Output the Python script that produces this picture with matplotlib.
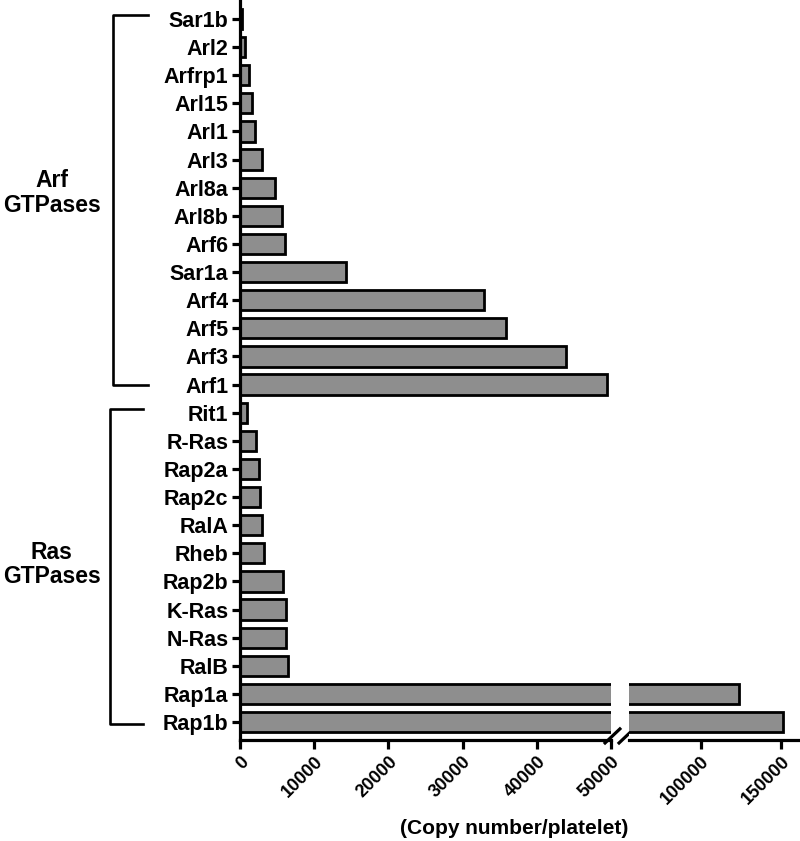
import matplotlib.pyplot as plt
import numpy as np
from matplotlib.lines import Line2D

# ---- data ----
arf_genes = ["Sar1b", "Arl2", "Arfrp1", "Arl15", "Arl1", "Arl3", "Arl8a", "Arl8b",
             "Arf6", "Sar1a", "Arf4", "Arf5", "Arf3", "Arf1"]
arf_values = [300, 650, 1200, 1550, 2000, 3000, 4700, 5700,
              6100, 14300, 32900, 35800, 43900, 49400]
ras_genes = ["Rit1", "R-Ras", "Rap2a", "Rap2c", "RalA", "Rheb", "Rap2b", "K-Ras",
             "N-Ras", "RalB", "Rap1a", "Rap1b"]
ras_values = [1000, 2150, 2500, 2750, 3000, 3300, 5800, 6250,
              6200, 6450, 124000, 151500]
xticks_left = [0, 10000, 20000, 30000, 40000, 50000]
xticks_right = [100000, 150000]
group_labels = ["Arf\nGTPases", "Ras\nGTPases"]
xlabel = "(Copy number/platelet)"

plt.rcParams['font.family'] = ['Liberation Sans', 'DejaVu Sans']
plt.rcParams['font.weight'] = 'bold'

genes = arf_genes + ras_genes
values = np.array(arf_values + ras_values)
ypos = np.arange(len(genes))

fig = plt.figure(figsize=(8, 8.41), dpi=100)
axL = fig.add_axes([0.3, 0.1201, 0.46375, 0.8799])
axR = fig.add_axes([0.78625, 0.1201, 0.21125, 0.8799])

bar_kw = dict(height=0.72, color='#8e8e8e', edgecolor='black', linewidth=2.0)
for ax in (axL, axR):
    ax.barh(ypos, values, **bar_kw)
    ax.set_ylim(len(genes) - 1 + 0.64, -0.675)
    ax.spines['top'].set_visible(False)
    ax.spines['right'].set_visible(False)
    ax.spines['bottom'].set_linewidth(2.3)
    ax.spines['left'].set_linewidth(2.3)
    ax.tick_params(axis='x', length=6.5, width=2.3, labelsize=13, pad=3)

axL.set_xlim(0, 50000)
axR.set_xlim(55000, 160600)
axR.spines['left'].set_visible(False)
axR.set_yticks([])

axL.set_yticks(ypos)
axL.set_yticklabels(genes, fontsize=15.5, fontweight='bold')
axL.tick_params(axis='y', length=5.8, width=2.3, pad=2.5)

axL.set_xticks(xticks_left)
axL.set_xticklabels([str(v) for v in xticks_left], rotation=45, ha='right',
                    rotation_mode='anchor', fontweight='bold')
axR.set_xticks(xticks_right)
axR.set_xticklabels([str(v) for v in xticks_right], rotation=45, ha='right',
                    rotation_mode='anchor', fontweight='bold')

# break marks
for dx in (0.0, 0.0377):
    axL.add_line(Line2D([0.984 + dx, 1.024 + dx], [-0.004, 0.015],
                        transform=axL.transAxes, color='black', lw=2.3,
                        clip_on=False))

# group brackets
trans = axL.get_yaxis_transform()
n_arf = len(arf_genes)
groups = [(0 - 0.14, n_arf - 1, -0.342, -0.248),
          (n_arf - 0.13, len(genes) - 1 + 0.07, -0.350, -0.261)]
for (y0, y1, xv, xh), lab, yl in zip(groups, group_labels,
                                     [(n_arf - 1) / 2 - 0.3,
                                      (n_arf + len(genes) - 1) / 2 - 0.1]):
    axL.add_line(Line2D([xh, xv, xv, xh], [y0, y0, y1, y1], transform=trans,
                        color='black', lw=1.9, clip_on=False))
    axL.text(-0.507, yl, lab, transform=trans, ha='center', va='center',
             fontsize=16.5, fontweight='bold', linespacing=1.1)

fig.text(0.643, 1 - 828 / 841, xlabel, ha='center', va='center', fontsize=15,
         fontweight='bold')

fig.savefig('out.png', dpi=100)
